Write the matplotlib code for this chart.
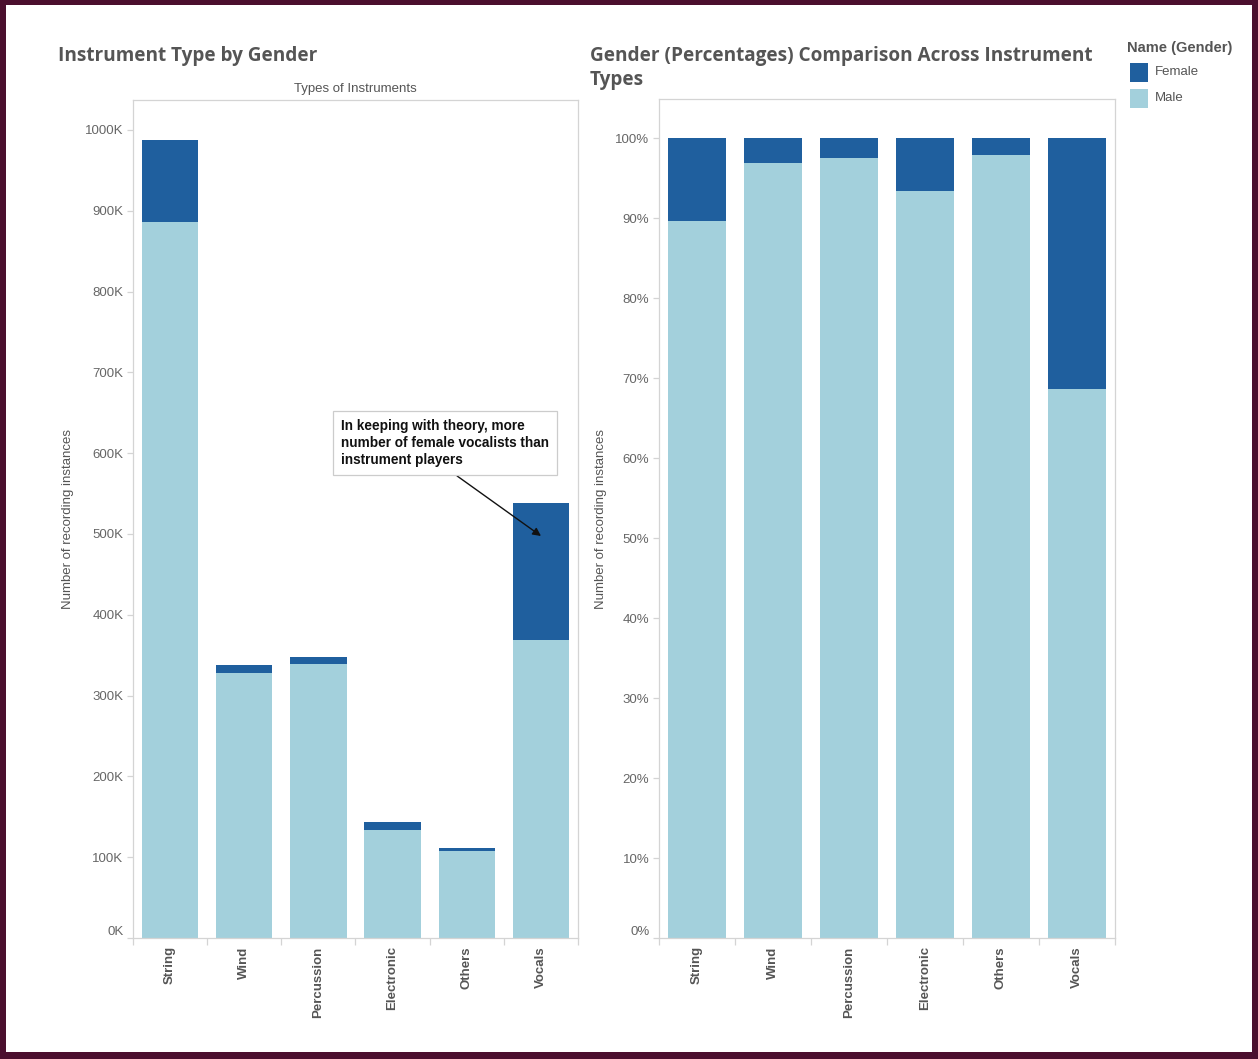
import matplotlib
matplotlib.use("Agg")
import matplotlib.pyplot as plt
from matplotlib.patches import Rectangle
from matplotlib.ticker import FuncFormatter, FixedLocator
import numpy as np

# ---- data ----
categories = ["String", "Wind", "Percussion", "Electronic", "Others", "Vocals"]
male_counts = [886000, 328000, 339000, 134000, 108000, 369000]
female_counts = [102000, 10000, 9000, 10000, 3000, 169000]
male_pct = [89.7, 96.9, 97.5, 93.4, 97.9, 68.6]
female_pct = [10.3, 3.1, 2.5, 6.6, 2.1, 31.4]
count_ticks = [0, 100000, 200000, 300000, 400000, 500000, 600000, 700000, 800000, 900000, 1000000]
pct_ticks = [0, 10, 20, 30, 40, 50, 60, 70, 80, 90, 100]

FEMALE = "#1f5f9e"
MALE = "#a3d0dc"
TICKC = "#666666"
SPINE = "#d4d4d4"
BORDER = "#4b0f2e"

plt.rcParams['font.family'] = ['Liberation Sans', 'DejaVu Sans']

W, H = 1258, 1059
fig = plt.figure(figsize=(W / 100, H / 100), dpi=100)
fig.patch.set_facecolor("white")

# maroon frame
for (x0, y0, w, h) in [(0, 0, 6, H), (W - 6, 0, 6, H), (0, H - 5, W, 5), (0, 0, W, 7)]:
    fig.patches.append(Rectangle((x0 / W, y0 / H), w / W, h / H, transform=fig.transFigure,
                                 facecolor=BORDER, edgecolor="none", zorder=0))

def fx(px):
    return px / W

def fy(py):
    return 1 - py / H

axL = fig.add_axes([fx(133), fy(938), fx(578) - fx(133), fy(100) - fy(938)])
axR = fig.add_axes([fx(659), fy(938), fx(1115) - fx(659), fy(99) - fy(938)])

x = np.arange(len(categories))
bw = 0.76

def style(ax):
    for s in ax.spines.values():
        s.set_color(SPINE)
        s.set_linewidth(0.9)
    ax.set_xlim(-0.5, len(categories) - 0.5)
    ax.set_xticks(x)
    ax.set_xticklabels(categories, rotation=90, fontsize=9.5, fontweight="bold", color="#555555")
    ax.tick_params(axis="x", length=0, pad=6)
    ax.xaxis.set_minor_locator(FixedLocator(np.arange(-0.5, len(categories), 1.0)))
    ax.tick_params(axis="x", which="minor", length=5, color=SPINE, width=0.9)
    ax.tick_params(axis="y", length=4, color=SPINE, width=0.9, labelsize=9.5, labelcolor=TICKC, pad=3)

# left chart
axL.bar(x, male_counts, width=bw, color=MALE, edgecolor="none")
axL.bar(x, female_counts, width=bw, bottom=male_counts, color=FEMALE, edgecolor="none")
axL.set_ylim(0, 1037000)
axL.set_yticks(count_ticks)
axL.yaxis.set_major_formatter(FuncFormatter(lambda v, p: f"{v/1000:.0f}K"))
style(axL)
axL.set_title("Types of Instruments", fontsize=9.5, color="#555555", pad=6)

# right chart
axR.bar(x, male_pct, width=bw, color=MALE, edgecolor="none")
axR.bar(x, female_pct, width=bw, bottom=male_pct, color=FEMALE, edgecolor="none")
axR.set_ylim(0, 104.9)
axR.set_yticks(pct_ticks)
axR.yaxis.set_major_formatter(FuncFormatter(lambda v, p: f"{v:.0f}%"))
style(axR)

# zero labels sit slightly above the baseline (as in the reference)
for ax in (axL, axR):
    ax.get_yticklabels()[0].set_verticalalignment("bottom")

# y-axis titles
for xp in (68, 601):
    fig.text(fx(xp), fy(519), "Number of recording instances", rotation=90, fontsize=9.5,
             color="#555555", ha="center", va="center")

# titles
tfam = ["Open Sans", "DejaVu Sans"]
fig.text(fx(58), fy(56), "Instrument Type by Gender", fontsize=13.7, fontweight="bold",
         color="#555555", family=tfam, va="center", ha="left")
fig.text(fx(590), fy(56), "Gender (Percentages) Comparison Across Instrument", fontsize=13.7,
         fontweight="bold", color="#555555", family=tfam, va="center", ha="left")
fig.text(fx(590), fy(80), "Types", fontsize=13.7, fontweight="bold", color="#555555",
         family=tfam, va="center", ha="left")

# legend
fig.text(fx(1127), fy(48), "Name (Gender)", fontsize=10.5, fontweight="bold", color="#555555",
         va="center", ha="left")
for i, (lab, col) in enumerate([("Female", FEMALE), ("Male", MALE)]):
    y0 = 63 + i * 26
    fig.patches.append(Rectangle((fx(1130), fy(y0 + 19)), fx(18), fy(y0) - fy(y0 + 19),
                                 transform=fig.transFigure, facecolor=col, edgecolor="none"))
    fig.text(fx(1155), fy(y0 + 9), lab, fontsize=9.5, color="#555555", va="center", ha="left")

# annotation
axL.annotate("In keeping with theory, more\nnumber of female vocalists than\ninstrument players",
             xy=(fx(541), fy(536)), xycoords="figure fraction",
             xytext=(fx(341), fy(443)), textcoords="figure fraction",
             fontsize=9.8, fontweight="bold", color="#111111", ha="left", va="center",
             linespacing=1.3,
             bbox=dict(boxstyle="square,pad=0.6", facecolor="white", edgecolor="#cccccc", linewidth=0.9),
             arrowprops=dict(arrowstyle="-|>", color="#111111", lw=1.0,
                             shrinkA=0, shrinkB=0, mutation_scale=12,
                             relpos=(0.5, 0.0)))

fig.savefig("out.png", dpi=100, facecolor="white")
